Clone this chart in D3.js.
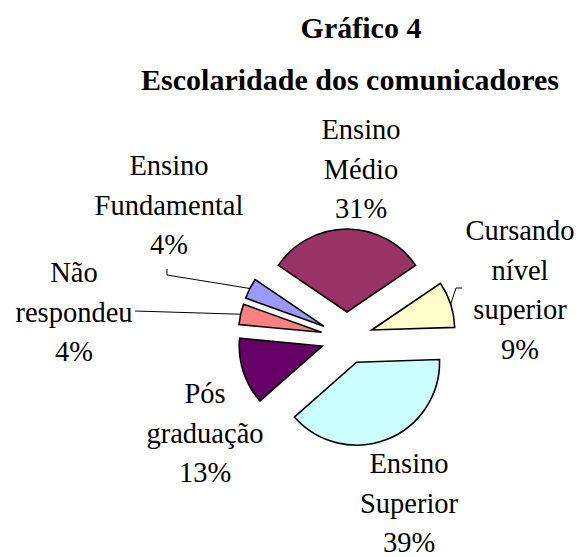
<!DOCTYPE html>
<html>
<head>
<meta charset="utf-8">
<script src="https://cdn.jsdelivr.net/npm/d3@7"></script>
<style>
  body { margin: 0; background: #fff; }
  text, tspan { font-family: "Liberation Serif", "Times New Roman", "DejaVu Serif", serif; fill: #000; }
</style>
</head>
<body>
<div id="chart"></div>
<script>
// data
const categories = ['Ensino Médio', 'Cursando nível superior', 'Ensino Superior', 'Pós graduação', 'Não respondeu', 'Ensino Fundamental'];
const values = [31, 9, 39, 13, 4, 4];
const labelLines = [['Ensino', 'Médio'], ['Cursando', 'nível', 'superior'], ['Ensino', 'Superior'], ['Pós', 'graduação'], ['Não', 'respondeu'], ['Ensino', 'Fundamental']];
const titleLines = ['Gráfico 4', 'Escolaridade dos comunicadores'];

// layout
const width = 581, height = 557;
const cx = 347, cy = 338, radius = 83, explode = 26;
const colors = ['#993366', '#FFFFCC', '#CCFFFF', '#660066', '#FF8080', '#9999FF'];
const labelPos = [
  { x: 361, y: 139 },
  { x: 520, y: 240 },
  { x: 409, y: 473 },
  { x: 205, y: 403 },
  { x: 74, y: 282 },
  { x: 169, y: 175 },
];
// leader line starting points (the end is the middle of the slice's arc)
const leaderStart = [null, [[462, 288], [456, 288]], null, null, [[135, 311]], [[167, 269], [167, 275]]];
const lineGap = 39.5;
const serif = '"Liberation Serif", "Times New Roman", serif';

const svg = d3.select('#chart').append('svg').attr('width', width).attr('height', height);

// title
svg.append('text').attr('x', 361).attr('y', 38).attr('text-anchor', 'middle')
  .attr('font-family', serif).style('font-weight', 'bold').style('font-size', '30px').text(titleLines[0]);
svg.append('text').attr('x', 350).attr('y', 90).attr('text-anchor', 'middle')
  .attr('font-family', serif).style('font-weight', 'bold').style('font-size', '30px').text(titleLines[1]);

const start = -55.8 * Math.PI / 180;
const pie = d3.pie().sort(null).value(d => d).startAngle(start).endAngle(start + 2 * Math.PI);
const arc = d3.arc().innerRadius(0).outerRadius(radius);
const slices = pie(values);

const mid = d => (d.startAngle + d.endAngle) / 2;

svg.append('g').selectAll('path').data(slices).enter().append('path')
  .attr('transform', d => 'translate(' + (cx + explode * Math.sin(mid(d))) + ',' + (cy - explode * Math.cos(mid(d))) + ')')
  .attr('d', arc)
  .attr('fill', (d, i) => colors[i])
  .attr('stroke', '#000')
  .attr('stroke-width', 1.6)
  .attr('stroke-linejoin', 'miter');

// leader lines
slices.forEach((d, i) => {
  if (!leaderStart[i]) return;
  const rr = explode + radius;
  const end = [cx + rr * Math.sin(mid(d)), cy - rr * Math.cos(mid(d))];
  const pts = leaderStart[i].concat([end]);
  svg.append('path').attr('d', d3.line()(pts))
    .attr('fill', 'none').attr('stroke', '#000').attr('stroke-width', 1);
});

// labels
slices.forEach((d, i) => {
  const lines = labelLines[i].concat([values[i] + '%']);
  const t = svg.append('text').attr('text-anchor', 'middle')
    .attr('font-family', serif).style('font-size', '28.5px');
  lines.forEach((s, j) => {
    t.append('tspan').attr('x', labelPos[i].x).attr('y', labelPos[i].y + j * lineGap)
      .attr('font-family', serif).text(s);
  });
});
</script>
</body>
</html>
